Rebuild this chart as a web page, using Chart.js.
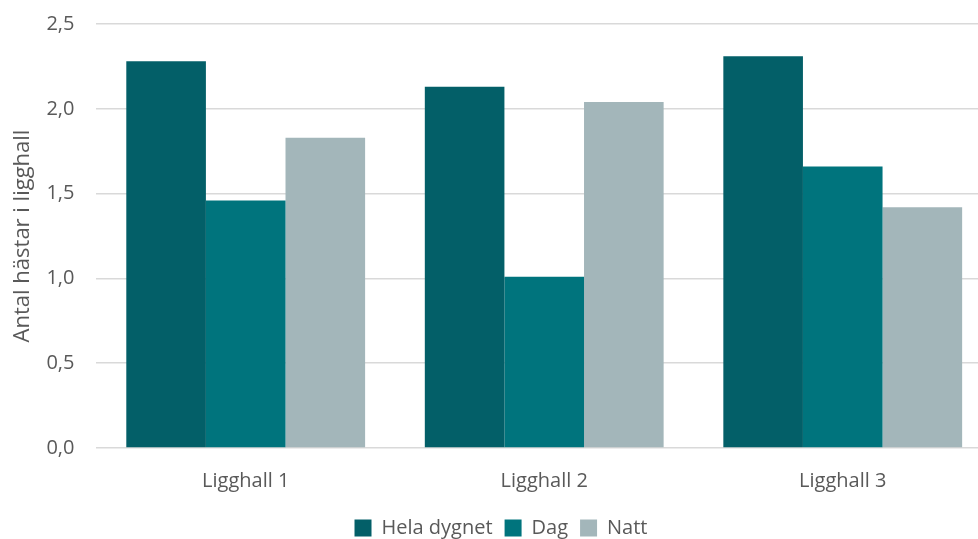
<!DOCTYPE html>
<html>
<head>
<meta charset="utf-8">
<script src="https://cdn.jsdelivr.net/npm/chart.js@4/dist/chart.umd.min.js"></script>
<style>
  html, body { margin: 0; padding: 0; background: #fff; overflow: hidden; }
  #wrap { width: 1012px; height: 558px; margin-left: -6px; margin-top: -10px; }
</style>
</head>
<body>
<div id="wrap"><canvas id="c" width="1012" height="558"></canvas></div>
<script>
const categories = ['Ligghall 1', 'Ligghall 2', 'Ligghall 3'];
const helaDygnet = [2.28, 2.13, 2.31];
const dag = [1.46, 1.01, 1.66];
const natt = [1.83, 2.04, 1.42];
const seriesNames = ['Hela dygnet', 'Dag', 'Natt'];
const yTicks = [0, 0.5, 1.0, 1.5, 2.0, 2.5];

const FONT = '"Open Sans", "Noto Sans", sans-serif';
const TEXT = '#595959';

new Chart(document.getElementById('c'), {
  type: 'bar',
  data: {
    labels: categories,
    datasets: [
      { label: seriesNames[0], data: helaDygnet, backgroundColor: '#035F68' },
      { label: seriesNames[1], data: dag, backgroundColor: '#00747D' },
      { label: seriesNames[2], data: natt, backgroundColor: '#A3B6BA' }
    ]
  },
  options: {
    responsive: false,
    animation: false,
    layout: { padding: { top: 2, right: 14, left: 16, bottom: 0 } },
    datasets: { bar: { categoryPercentage: 0.8, barPercentage: 1.0 } },
    scales: {
      x: {
        grid: { display: false },
        border: { display: false },
        ticks: { color: TEXT, font: { family: FONT, size: 20 }, padding: 13 }
      },
      y: {
        min: 0,
        max: 2.5,
        afterBuildTicks: axis => { axis.ticks = yTicks.map(v => ({ value: v })); },
        grid: { color: '#D9D9D9', lineWidth: 1.5, drawTicks: false },
        border: { display: false },
        ticks: {
          color: TEXT,
          font: { family: FONT, size: 20 },
          padding: 22,
          callback: v => Number(v).toFixed(1).replace('.', ',')
        },
        title: {
          display: true,
          text: 'Antal hästar i ligghall',
          color: TEXT,
          font: { family: FONT, size: 22 },
          padding: { top: 0, bottom: -12 }
        }
      }
    },
    plugins: {
      legend: {
        position: 'bottom',
        labels: {
          color: TEXT,
          font: { family: FONT, size: 20 },
          boxWidth: 17,
          boxHeight: 17,
          padding: 12
        }
      },
      tooltip: { enabled: false }
    }
  }
});
</script>
</body>
</html>
